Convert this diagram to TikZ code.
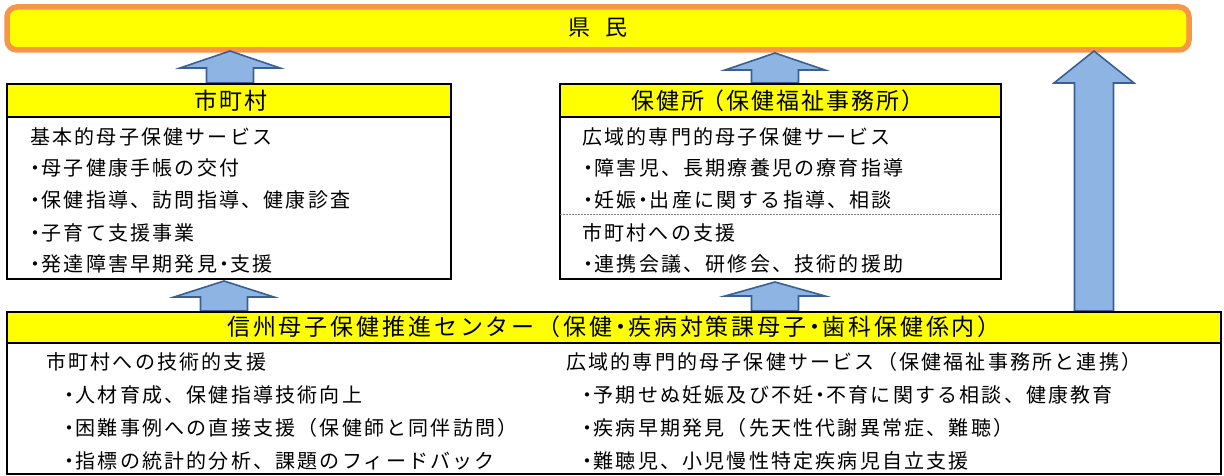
\documentclass[tikz,border=0pt]{standalone}
\usepackage{fontspec}
\newfontfamily\jpbody[LetterSpace=11]{Noto Sans CJK JP}
\newfontfamily\jphead[LetterSpace=9]{Noto Sans CJK JP}
\newfontfamily\jpheadw[LetterSpace=12.5]{Noto Sans CJK JP}
\definecolor{bannerline}{HTML}{F79646}
\definecolor{hdr}{HTML}{FFFF00}
\definecolor{arrfill}{HTML}{8EB4E3}
\definecolor{arrline}{HTML}{3A6093}
\newcommand{\bl}{・\kern-3.5pt}
\newcommand{\md}{\kern-3pt・\kern-4pt}
\tikzset{
  boxline/.style={draw=black, line width=1.8pt},
  hdrfill/.style={fill=hdr},
  body/.style={anchor=west, inner sep=0pt, font=\jpbody\fontsize{20pt}{22pt}\selectfont},
  head/.style={anchor=center, inner sep=0pt, font=\jphead\fontsize{23pt}{25pt}\selectfont},
  blockarrow/.style={fill=arrfill, draw=arrline, line width=1.6pt, line join=miter},
}
% block arrow pointing up: cx, tip y, head base y, bottom y, head half width, shaft half width
\newcommand{\blockarr}[6]{%
  \draw[blockarrow] (#1,#2) -- (#1+#5,#3) -- (#1+#6,#3) -- (#1+#6,#4) -- (#1-#6,#4) -- (#1-#6,#3) -- (#1-#5,#3) -- cycle;}
\begin{document}
\begin{tikzpicture}[x=1pt,y=-1pt]
\useasboundingbox (0,0) rectangle (1224,476);
% banner
\draw[draw=bannerline, fill=hdr, line width=5.5pt, rounded corners=10pt] (7,7) rectangle (1189,50);
\node[head, font=\jphead\fontsize{22pt}{24pt}\selectfont] (kenmin) at (598,28) {県\hspace{16pt}民};
% arrows
\blockarr{230}{51}{68}{83}{50}{23.5}
\blockarr{775}{53}{70}{83}{50}{23.5}
\blockarr{1094}{51}{83}{311}{40}{19.5}
\blockarr{224}{281}{297}{311}{50}{23.5}
\blockarr{775}{282}{296}{311}{50}{23.5}
% box 1
\fill[hdrfill] (7,84) rectangle (451,117);
\draw[boxline] (7,84) rectangle (451,279);
\draw[boxline] (7,117) -- (451,117);
\node[head] (m0) at (231,101) {市町村};
\node[body] (m1) at (30,137) {基本的母子保健サービス};
\node[body] (m2) at (25,168) {\bl 母子健康手帳の交付};
\node[body] (m3) at (25,200) {\bl 保健指導、訪問指導、健康診査};
\node[body] (m4) at (25,233) {\bl 子育て支援事業};
\node[body] (m5) at (25,264) {\bl 発達障害早期発見\md 支援};
% box 2
\fill[hdrfill] (560,84) rectangle (1001,117);
\draw[boxline] (560,84) rectangle (1001,279);
\draw[boxline] (560,117) -- (1001,117);
\draw[gray, line width=0.8pt, dash pattern=on 2pt off 1pt] (560,214) -- (1001,214);
\node[head] (h0) at (778,101) {保健所\kern-3pt（保健福祉事務所）};
\node[body] (h1) at (582,137) {広域的専門的母子保健サービス};
\node[body] (h2) at (578,168) {\bl 障害児、長期療養児の療育指導};
\node[body] (h3) at (578,200) {\bl 妊娠\md 出産に関する指導、相談};
\node[body] (h4) at (582,233) {市町村への支援};
\node[body] (h5) at (578,264) {\bl 連携会議、研修会、技術的援助};
% box 3
\fill[hdrfill] (7,312) rectangle (1221,343);
\draw[boxline] (7,312) rectangle (1221,474);
\draw[boxline] (7,343) -- (1221,343);
\node[head, font=\jpheadw\fontsize{23pt}{25pt}\selectfont] (c0) at (614,327) {信州母子保健推進センター（保健\md 疾病対策課母子\md 歯科保健係内）};
\node[body] (c1) at (46,362) {市町村への技術的支援};
\node[body] (c2) at (59,395) {\bl 人材育成、保健指導技術向上};
\node[body] (c3) at (59,428) {\bl 困難事例への直接支援（保健師と同伴訪問）};
\node[body] (c4) at (59,461) {\bl 指標の統計的分析、課題のフィードバック};
\node[body] (d1) at (566,362) {広域的専門的母子保健サービス（保健福祉事務所と連携）};
\node[body] (d2) at (577,395) {\bl 予期せぬ妊娠及び不妊\md 不育に関する相談、健康教育};
\node[body] (d3) at (577,428) {\bl 疾病早期発見（先天性代謝異常症、難聴）};
\node[body] (d4) at (577,461) {\bl 難聴児、小児慢性特定疾病児自立支援};
\end{tikzpicture}
\end{document}
